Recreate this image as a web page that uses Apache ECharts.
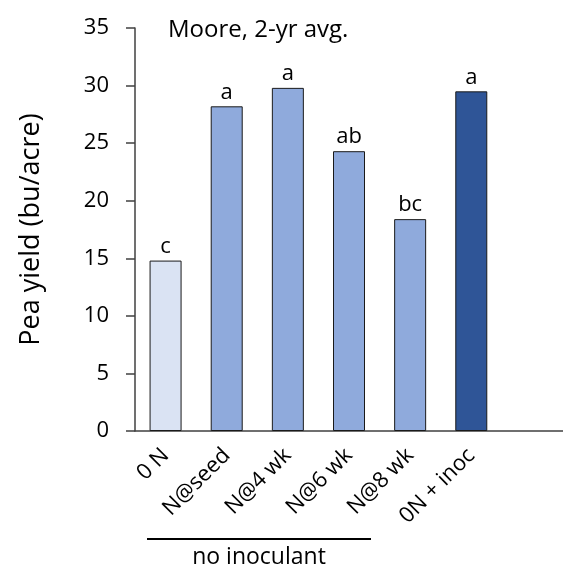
<!DOCTYPE html>
<html>
<head>
<meta charset="utf-8">
<script src="https://cdn.jsdelivr.net/npm/echarts@6/dist/echarts.min.js"></script>
<style>
  html, body { margin: 0; padding: 0; background: #fff; }
  #chart { width: 563px; height: 567px; }
</style>
</head>
<body>
<div id="chart"></div>
<script>
// treatments (last slot is empty space at the right of the plot)
var treatments = ["0 N", "N@seed", "N@4 wk", "N@6 wk", "N@8 wk", "0N + inoc", ""];
var yieldValues = [14.8, 28.2, 29.8, 24.3, 18.4, 29.5];
var sigLetters = ["c", "a", "a", "ab", "bc", "a"];
var barColors = ["#dae3f3", "#8faadc", "#8faadc", "#8faadc", "#8faadc", "#2f5597"];

var font = "Open Sans";

var dom = document.getElementById("chart");
var myChart = echarts.init(dom);

var barData = yieldValues.map(function (v, i) {
    return {
        value: v,
        itemStyle: { color: barColors[i] },
        label: { formatter: sigLetters[i] }
    };
});

var option = {
    backgroundColor: "#fff",
    animation: false,
    title: {
        text: "Moore, 2-yr avg.",
        left: 163,
        top: 13,
        textStyle: { fontFamily: font, fontSize: 24, fontWeight: "normal", color: "#000" }
    },
    grid: {
        left: 135,
        right: -12,
        top: 28,
        bottom: 136
    },
    xAxis: {
        type: "category",
        data: treatments,
        axisLine: { lineStyle: { color: "#404040", width: 1.5 } },
        axisTick: { show: false },
        axisLabel: {
            rotate: 45,
            interval: 0,
            margin: 21,
            fontFamily: font,
            fontSize: 22,
            color: "#000"
        }
    },
    yAxis: {
        type: "value",
        min: 0,
        max: 35,
        interval: 5,
        name: "Pea yield (bu/acre)",
        nameLocation: "middle",
        nameGap: 90,
        nameTextStyle: { fontFamily: font, fontSize: 27, color: "#000" },
        splitLine: { show: false },
        axisLine: { show: true, lineStyle: { color: "#404040", width: 1.5 } },
        axisTick: { show: true, inside: false, length: 9, lineStyle: { color: "#404040", width: 1.5 } },
        axisLabel: { margin: 26, fontFamily: font, fontSize: 22, color: "#000" }
    },
    series: [
        {
            type: "bar",
            data: barData,
            barWidth: 32,
            itemStyle: { borderColor: "#1a1a1a", borderWidth: 1 },
            label: {
                show: true,
                position: "top",
                distance: 3,
                fontFamily: font,
                fontSize: 22,
                color: "#000"
            }
        }
    ],
    graphic: [
        {
            type: "line",
            shape: { x1: 147, y1: 539, x2: 371, y2: 539 },
            style: { stroke: "#000", lineWidth: 2 }
        },
        {
            type: "text",
            x: 259,
            y: 557,
            style: {
                text: "no inoculant",
                fontFamily: font,
                fontSize: 23,
                fill: "#000",
                align: "center",
                verticalAlign: "middle"
            }
        }
    ]
};

myChart.setOption(option);
</script>
</body>
</html>
